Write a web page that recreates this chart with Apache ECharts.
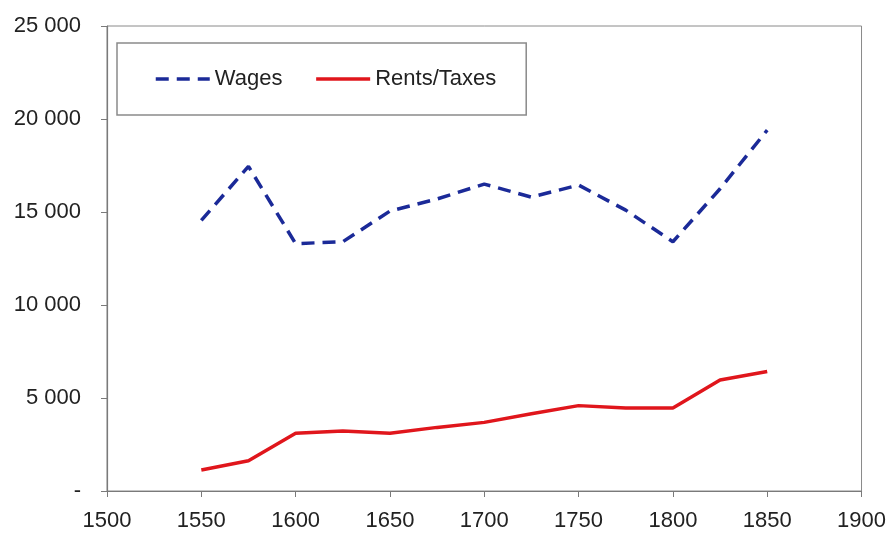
<!DOCTYPE html>
<html>
<head>
<meta charset="utf-8">
<script src="https://cdn.jsdelivr.net/npm/echarts@6/dist/echarts.min.js"></script>
<style>html,body{margin:0;padding:0;background:#fff}#c{width:889px;height:534px}</style>
</head>
<body>
<div id="c"></div>
<script>
var years = [1550, 1575, 1600, 1625, 1650, 1675, 1700, 1725, 1750, 1775, 1800, 1825, 1850];
var wages = [14550, 17450, 13300, 13400, 15050, 15700, 16500, 15800, 16450, 15100, 13400, 16250, 19400];
var rentsTaxes = [1130, 1630, 3100, 3220, 3100, 3420, 3690, 4150, 4590, 4460, 4460, 5970, 6420];
var seriesNames = ['Wages', 'Rents/Taxes'];
var xTicks = [1500, 1550, 1600, 1650, 1700, 1750, 1800, 1850, 1900];
var yTicks = [0, 5000, 10000, 15000, 20000, 25000];

function pairs(xs, ys) { return xs.map(function (x, i) { return [x, ys[i]]; }); }
function fmtY(v) {
  if (v === 0) return '-';
  return String(v).replace(/\B(?=(\d{3})+(?!\d))/g, ' ');
}
var font = 'Liberation Sans, Arial, sans-serif';
var chart = echarts.init(document.getElementById('c'), null, {renderer: 'canvas'});
chart.setOption({
  animation: false,
  backgroundColor: '#fff',
  grid: {left: 107, right: 27, top: 26, bottom: 43, show: true, borderColor: '#8a8a8a', borderWidth: 1},
  legend: {
    data: seriesNames,
    left: 117, top: 43,
    padding: [25, 30, 25, 37],
    itemGap: 32,
    itemWidth: 54, itemHeight: 14,
    borderColor: '#8a8a8a', borderWidth: 1.5,
    backgroundColor: '#fff',
    itemStyle: {opacity: 0},
    lineStyle: {width: 3.5},
    textStyle: {fontFamily: font, fontSize: 22, color: '#222'}
  },
  xAxis: {
    type: 'value', min: xTicks[0], max: xTicks[xTicks.length - 1], interval: 50,
    axisLine: {show: true, lineStyle: {color: '#7a7a7a', width: 1.2}},
    axisTick: {show: true, length: 6, lineStyle: {color: '#7a7a7a'}},
    splitLine: {show: false},
    axisLabel: {fontFamily: font, fontSize: 22, color: '#222', margin: 19, formatter: function (v) { return String(v); }}
  },
  yAxis: {
    type: 'value', min: yTicks[0], max: yTicks[yTicks.length - 1], interval: 5000,
    axisLine: {show: true, lineStyle: {color: '#7a7a7a', width: 1.2}},
    axisTick: {show: true, length: 6, lineStyle: {color: '#7a7a7a'}},
    splitLine: {show: false},
    axisLabel: {fontFamily: font, fontSize: 22, color: '#222', margin: 26, formatter: fmtY}
  },
  series: [
    {
      name: seriesNames[0], type: 'line', data: pairs(years, wages),
      showSymbol: false, symbol: 'none',
      lineStyle: {color: '#1b2a98', width: 3.5, type: [13, 8]},
      itemStyle: {color: '#1b2a98'}
    },
    {
      name: seriesNames[1], type: 'line', data: pairs(years, rentsTaxes),
      showSymbol: false, symbol: 'none',
      lineStyle: {color: '#e0161c', width: 3.5},
      itemStyle: {color: '#e0161c'}
    }
  ]
});
</script>
</body>
</html>
